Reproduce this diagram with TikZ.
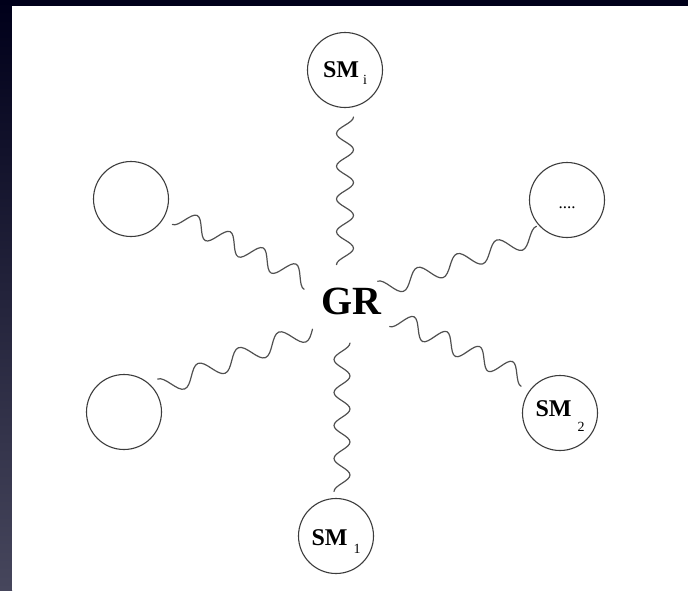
\documentclass[tikz,border=0pt]{standalone}
\usepackage{fontspec}
\setmainfont{Liberation Serif}
\usetikzlibrary{decorations.pathmorphing}
\pgfdeclaredecoration{cwave}{begin}{
  \state{begin}[width=0pt,next state=tz]{\pgfpathmoveto{\pgfqpoint{0pt}{-\pgfdecorationsegmentamplitude}}}
  \state{tz}[width=0.25\pgfdecorationsegmentlength,next state=zp]{
    \pgfpathcurveto{\pgfqpoint{0.0905\pgfdecorationsegmentlength}{-\pgfdecorationsegmentamplitude}}
                   {\pgfqpoint{0.1685\pgfdecorationsegmentlength}{-0.5123\pgfdecorationsegmentamplitude}}
                   {\pgfqpoint{0.25\pgfdecorationsegmentlength}{0pt}}}
  \state{zp}[width=0.25\pgfdecorationsegmentlength,next state=pz]{
    \pgfpathcurveto{\pgfqpoint{0.0815\pgfdecorationsegmentlength}{0.5123\pgfdecorationsegmentamplitude}}
                   {\pgfqpoint{0.1595\pgfdecorationsegmentlength}{\pgfdecorationsegmentamplitude}}
                   {\pgfqpoint{0.25\pgfdecorationsegmentlength}{\pgfdecorationsegmentamplitude}}}
  \state{pz}[width=0.25\pgfdecorationsegmentlength,next state=zt]{
    \pgfpathcurveto{\pgfqpoint{0.0905\pgfdecorationsegmentlength}{\pgfdecorationsegmentamplitude}}
                   {\pgfqpoint{0.1685\pgfdecorationsegmentlength}{0.5123\pgfdecorationsegmentamplitude}}
                   {\pgfqpoint{0.25\pgfdecorationsegmentlength}{0pt}}}
  \state{zt}[width=0.25\pgfdecorationsegmentlength,next state=tz]{
    \pgfpathcurveto{\pgfqpoint{0.0815\pgfdecorationsegmentlength}{-0.5123\pgfdecorationsegmentamplitude}}
                   {\pgfqpoint{0.1595\pgfdecorationsegmentlength}{-\pgfdecorationsegmentamplitude}}
                   {\pgfqpoint{0.25\pgfdecorationsegmentlength}{-\pgfdecorationsegmentamplitude}}}
  \state{final}{}
}
\definecolor{bgdark}{HTML}{00001A}
\definecolor{bgband}{HTML}{46465C}
\definecolor{ink}{HTML}{3C3C3C}
\newcommand\smlbl[3]{\textbf{SM}\hspace{#2}\raisebox{-#3}{\fontsize{14}{14}\selectfont #1}}
\tikzset{
  ball/.style={circle,draw=ink,line width=1.1pt,minimum size=75pt,inner sep=0pt,text depth=0pt},
  wave/.style={draw=ink!90,line width=1.2pt,line cap=round,decorate,
    decoration={cwave,segment length=#1}},
}
\begin{document}
\begin{tikzpicture}[x=1pt,y=-1pt]
\useasboundingbox (0,0) rectangle (688,590);
\fill[bgdark] (0,0) rectangle (688,590);
\shade[top color=bgdark,bottom color=bgband] (0,0) rectangle (12,590);
\fill[white] (12,6) rectangle (688,590);

\node[ball,text height=14pt,font=\fontsize{24}{24}\selectfont] (smi) at (345,70) {\smlbl{i}{4pt}{7.5pt}};
\node[ball,text height=16pt,font=\fontsize{17}{17}\selectfont] (dots) at (567,200) {....};
\node[ball,text height=6pt,font=\fontsize{24}{24}\selectfont] (sm2) at (560,413) {\smlbl{2}{6pt}{15pt}};
\node[ball,text height=18pt,font=\fontsize{24}{24}\selectfont] (sm1) at (336,536) {\smlbl{1}{6pt}{8.5pt}};
\node[ball] (e1) at (131,199) {};
\node[ball] (e2) at (124,412) {};
\node[anchor=base,font=\fontsize{40}{40}\selectfont\bfseries,inner sep=0pt] (gr) at (351,314) {GR};

\coordinate (a1) at (345,117);   \coordinate (a2) at (345,265);
\coordinate (b1) at (342,343);   \coordinate (b2) at (342,492);
\coordinate (c1) at (176.6,215.9); \coordinate (c2) at (308.6,280.9);
\coordinate (d1) at (380.6,289.7); \coordinate (d2) at (539.6,234.7);
\coordinate (f1) at (161.1,387.9); \coordinate (f2) at (313,329);
\coordinate (g1) at (393.6,317.9); \coordinate (g2) at (525.6,377.9);

\draw[wave=32.8pt,decoration={amplitude=-8.5pt}] (a1) -- (a2);
\draw[wave=33pt,decoration={amplitude=-8pt}] (b1) -- (b2);
\draw[wave=36.7pt,decoration={amplitude=9.5pt}] (c1) -- (c2);
\draw[wave=42pt,decoration={amplitude=-9pt}] (d1) -- (d2);
\draw[wave=43.3pt,decoration={amplitude=-9.5pt}] (f1) -- (f2);
\draw[wave=36.1pt,decoration={amplitude=9.5pt}] (g1) -- (g2);
\end{tikzpicture}
\end{document}
